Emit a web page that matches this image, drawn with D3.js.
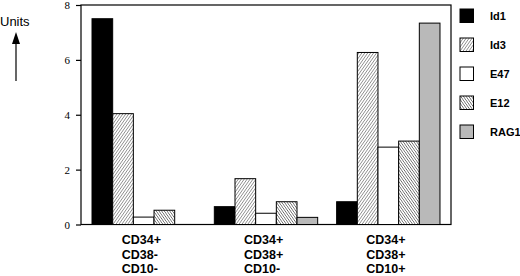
<!DOCTYPE html>
<html>
<head>
<meta charset="utf-8">
<script src="https://cdn.jsdelivr.net/npm/d3@7"></script>
<style>
  body { margin: 0; background: #fff; }
  svg { display: block; }
</style>
</head>
<body>
<div id="chart"></div>
<script>
const groups = [["CD34+", "CD38-", "CD10-"], ["CD34+", "CD38+", "CD10-"], ["CD34+", "CD38+", "CD10+"]];
const seriesNames = ["Id1", "Id3", "E47", "E12", "RAG1"];
const id1 = [7.5, 0.65, 0.83];
const id3 = [4.04, 1.67, 6.27];
const e47 = [0.27, 0.41, 2.82];
const e12 = [0.52, 0.83, 3.04];
const rag1 = [0, 0.26, 7.34];
const yTicks = [0, 2, 4, 6, 8];

const series = [id1, id3, e47, e12, rag1];
const fills = ["#000", "url(#hatchUp)", "#fff", "url(#hatchDown)", "#b9b9b9"];

const width = 520, height = 276;
const plotLeft = 81, plotRight = 451, plotTop = 5, plotBottom = 224.5;

const svg = d3.select("#chart").append("svg")
    .attr("width", width)
    .attr("height", height);

const defs = svg.append("defs");
function hatch(id, angle, gap, sw, col) {
    const p = defs.append("pattern")
        .attr("id", id)
        .attr("patternUnits", "userSpaceOnUse")
        .attr("width", gap).attr("height", gap)
        .attr("patternTransform", `rotate(${angle})`);
    p.append("rect").attr("width", gap).attr("height", gap).attr("fill", "#fff");
    p.append("line")
        .attr("x1", 0).attr("y1", 0).attr("x2", 0).attr("y2", gap)
        .attr("stroke", col).attr("stroke-width", sw);
}
hatch("hatchUp", 35, 2.4, 0.9, "#333");
hatch("hatchDown", -35, 2.2, 1, "#222");

const x = d3.scaleBand()
    .domain(d3.range(groups.length))
    .range([plotLeft, plotRight])
    .paddingInner(0.155)
    .paddingOuter(0.09);

const xs = d3.scaleBand()
    .domain(seriesNames)
    .range([0, x.bandwidth()]);

const y = d3.scaleLinear()
    .domain([0, 8])
    .range([plotBottom, plotTop]);

// frame
svg.append("rect")
    .attr("x", plotLeft).attr("y", plotTop)
    .attr("width", plotRight - plotLeft).attr("height", plotBottom - plotTop)
    .attr("fill", "none").attr("stroke", "#000").attr("stroke-width", 1.2);

const yAxis = svg.append("g")
    .attr("transform", `translate(${plotLeft},0)`)
    .call(d3.axisLeft(y).tickValues(yTicks).tickSize(5).tickPadding(6));
yAxis.select(".domain").remove();
yAxis.selectAll("line").attr("stroke-width", 1.2);
yAxis.selectAll("text")
    .style("font-family", "'Liberation Serif', 'DejaVu Serif', serif")
    .style("font-size", "11px");

series.forEach((vals, si) => {
    svg.selectAll(".bar" + si)
        .data(vals)
        .enter()
        .append("rect")
        .attr("x", (d, i) => x(i) + xs(seriesNames[si]))
        .attr("y", d => y(d))
        .attr("width", xs.bandwidth())
        .attr("height", d => y(0) - y(d))
        .attr("fill", fills[si])
        .attr("stroke", d => d > 0 ? "#000" : "none")
        .attr("stroke-width", 1);
});

// category labels
groups.forEach((lines, i) => {
    const t = svg.append("text")
        .style("font-family", "'Liberation Sans', Arial, sans-serif")
        .style("font-weight", "bold")
        .style("font-size", "12.5px");
    lines.forEach((s, j) => {
        t.append("tspan")
            .attr("x", x(i) + x.bandwidth() / 2 - 22)
            .attr("y", 244 + j * 14.5)
            .text(s);
    });
});

// legend
const legend = svg.append("g").attr("transform", "translate(460,9)");
seriesNames.forEach((name, i) => {
    const g = legend.append("g").attr("transform", `translate(0,${i * 29})`);
    g.append("rect")
        .attr("width", 13.5).attr("height", 13.5)
        .attr("fill", fills[i])
        .attr("stroke", "#000").attr("stroke-width", 1);
    g.append("text")
        .attr("x", 30).attr("y", 10.5)
        .style("font-family", "'Liberation Sans', Arial, sans-serif")
        .style("font-weight", "bold")
        .style("font-size", "11px")
        .text(name);
});

// units label with arrow
svg.append("text")
    .attr("x", 0).attr("y", 26)
    .style("font-family", "'Liberation Sans', Arial, sans-serif")
    .style("font-size", "13px")
    .text("Units");
svg.append("line")
    .attr("x1", 16).attr("y1", 81).attr("x2", 16).attr("y2", 42)
    .attr("stroke", "#000").attr("stroke-width", 1.2);
svg.append("path")
    .attr("d", "M16,32 L12,44 L20,44 Z")
    .attr("fill", "#000");
</script>
</body>
</html>
